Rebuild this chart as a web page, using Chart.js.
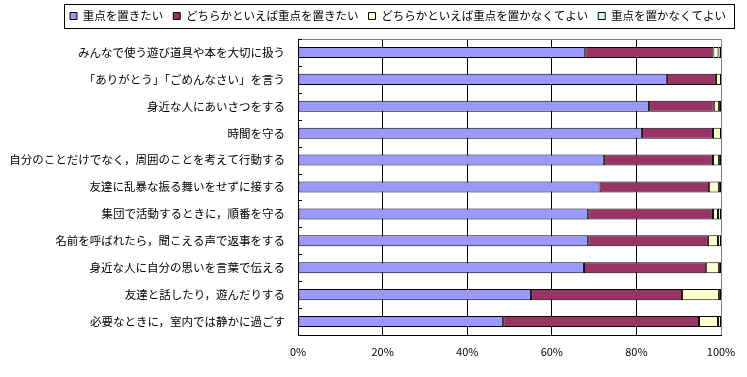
<!DOCTYPE html>
<html>
<head>
<meta charset="utf-8">
<script src="https://cdn.jsdelivr.net/npm/chart.js@4"></script>
<style>
html,body{margin:0;padding:0;background:#fff;}
#wrap{width:747px;height:377px;}
</style>
</head>
<body>
<div id="wrap"><canvas id="c" width="747" height="377"></canvas></div>
<script>
const categories = [
  'みんなで使う遊び道具や本を大切に扱う',
  '「ありがとう」「ごめんなさい」を言う',
  '身近な人にあいさつをする',
  '時間を守る',
  '自分のことだけでなく，周囲のことを考えて行動する',
  '友達に乱暴な振る舞いをせずに接する',
  '集団で活動するときに，順番を守る',
  '名前を呼ばれたら，聞こえる声で返事をする',
  '身近な人に自分の思いを言葉で伝える',
  '友達と話したり，遊んだりする',
  '必要なときに，室内では静かに過ごす'
];
const seriesNames = ['重点を置きたい', 'どちらかといえば重点を置きたい', 'どちらかといえば重点を置かなくてよい', '重点を置かなくてよい'];
const s1 = [67.9, 87.2, 83.0, 81.3, 72.3, 71.3, 68.6, 68.6, 67.6, 55.1, 48.5];
const s2 = [30.3, 11.6, 15.3, 16.8, 25.8, 25.9, 29.5, 28.3, 28.9, 35.7, 46.3];
const s3 = [1.2, 1.2, 1.2, 1.9, 1.4, 2.3, 1.2, 2.4, 3.0, 8.7, 4.5];
const s4 = [0.6, 0.0, 0.5, 0.0, 0.5, 0.5, 0.7, 0.7, 0.5, 0.5, 0.7];
const tickLabels = ['0%', '20%', '40%', '60%', '80%', '100%'];
const colors = ['#9999FF', '#993366', '#FFFFCC', '#CCFFFF'];

Chart.defaults.font.family = '"Noto Sans CJK JP", "Noto Sans", sans-serif';
Chart.defaults.color = '#000';

const extras = {
  id: 'extras',
  afterLayout(chart) {
    const lg = chart.legend;
    const p = lg.options.labels.padding;
    const fs = lg.options.labels.font.size;
    const w = lg.right - lg.left;
    lg.left = 70 - p;
    lg.right = lg.left + w;
    const h = lg.bottom - lg.top;
    lg.top = 16 - p - fs / 2;
    lg.bottom = lg.top + h;
  },
  afterDraw(chart) {
    const ctx = chart.ctx;
    const a = chart.chartArea;
    const y = chart.scales.y;
    ctx.save();
    // top border (gray)
    ctx.strokeStyle = '#808080';
    ctx.lineWidth = 1;
    ctx.beginPath();
    ctx.moveTo(a.left, Math.round(a.top) + 0.5);
    ctx.lineTo(a.right, Math.round(a.top) + 0.5);
    ctx.stroke();
    // inside tick marks at category boundaries
    ctx.strokeStyle = '#000';
    ctx.beginPath();
    for (let i = 0; i <= categories.length; i++) {
      const py = Math.round(y.getPixelForValue(i - 0.5)) + 0.5;
      ctx.moveTo(a.left, py);
      ctx.lineTo(a.left + 4, py);
    }
    ctx.stroke();
    // legend frame
    const hb = chart.legend.legendHitBoxes;
    if (hb && hb.length) {
      const first = hb[0], last = hb[hb.length - 1];
      const cy = first.top + first.height / 2;
      const l = Math.round(first.left - 6) + 0.5;
      const r = Math.round(last.left + last.width + 8) + 0.5;
      const t = Math.round(cy - 12) + 0.5;
      const b = Math.round(cy + 12) + 0.5;
      ctx.strokeStyle = '#000';
      ctx.strokeRect(l, t, r - l, b - t);
    }
    ctx.restore();
  }
};

new Chart(document.getElementById('c'), {
  type: 'bar',
  data: {
    labels: categories,
    datasets: [s1, s2, s3, s4].map((d, i) => ({
      label: seriesNames[i],
      data: d,
      backgroundColor: colors[i],
      borderColor: '#000',
      borderWidth: 1,
      borderSkipped: false,
      categoryPercentage: 1.0,
      barPercentage: 0.41
    }))
  },
  options: {
    indexAxis: 'y',
    responsive: false,
    animation: false,
    layout: { padding: { top: 7.5, right: 26, left: 0, bottom: 0 } },
    plugins: {
      legend: {
        display: true,
        position: 'top',
        align: 'start',
        labels: {
          boxWidth: 7,
          boxHeight: 7,
          padding: 10,
          font: { size: 11.5 },
          color: '#000'
        }
      },
      tooltip: { enabled: false }
    },
    scales: {
      x: {
        stacked: true,
        min: 0,
        max: 100,
        ticks: {
          stepSize: 20,
          padding: 10,
          font: { size: 11 },
          color: '#000',
          callback: (v) => tickLabels[Math.round(v / 20)]
        },
        grid: {
          drawTicks: false,
          color: (c) => (c.tick && c.tick.value === 100 ? '#808080' : '#000'),
          lineWidth: 1
        },
        border: { color: '#000', width: 1 },
        afterFit: (s) => { s.height = 42; }
      },
      y: {
        stacked: true,
        ticks: {
          padding: 13,
          font: { size: 11.5 },
          color: '#000',
          autoSkip: false
        },
        grid: { display: false, drawTicks: false },
        border: { color: '#000', width: 1 },
        afterFit: (s) => { s.width = 298; }
      }
    }
  },
  plugins: [extras]
});
</script>
</body>
</html>
